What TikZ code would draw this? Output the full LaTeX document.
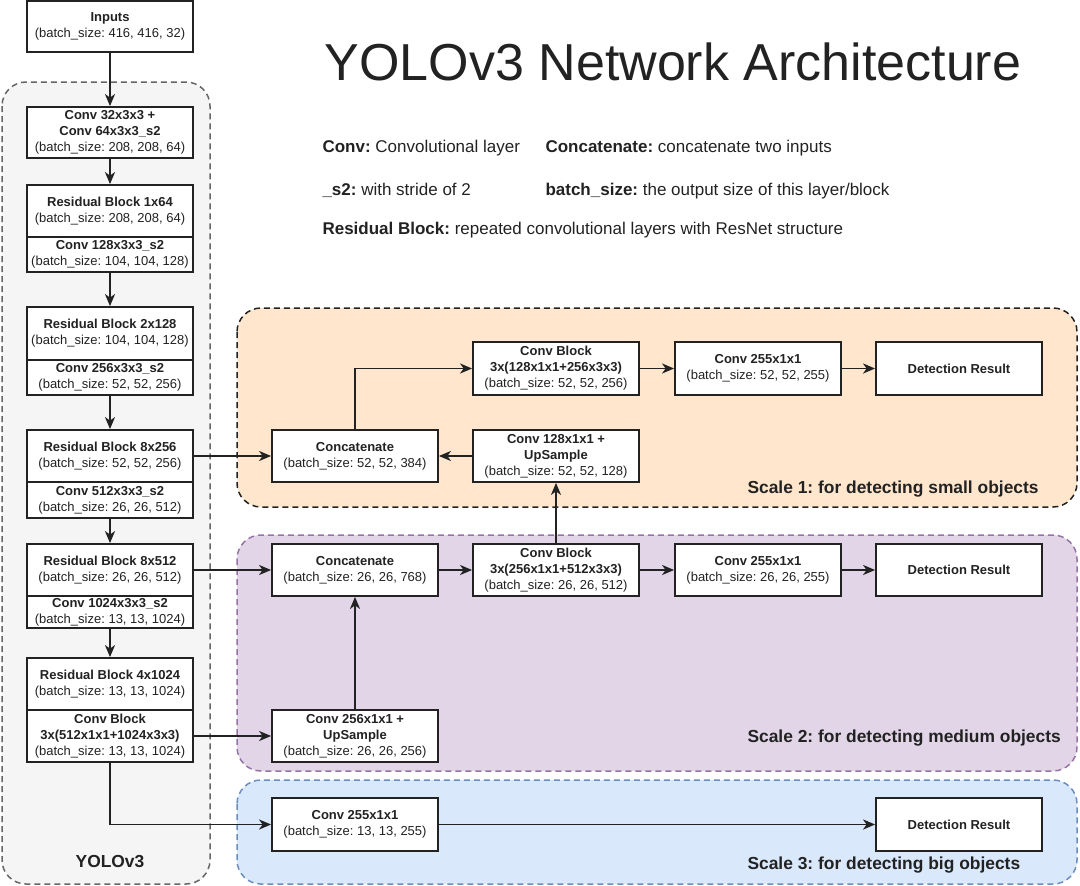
\documentclass[tikz,border=0pt]{standalone}
\usepackage{fontspec}
\setmainfont{Liberation Sans}
\usetikzlibrary{arrows.meta}
\frenchspacing

\definecolor{ink}{HTML}{222222}
\definecolor{yologray}{HTML}{F5F5F5}
\definecolor{yoloedge}{HTML}{666666}
\definecolor{smallfill}{HTML}{FFE6CC}
\definecolor{mediumfill}{HTML}{E1D5E7}
\definecolor{mediumedge}{HTML}{9673A6}
\definecolor{bigfill}{HTML}{DAE8FC}
\definecolor{bigedge}{HTML}{6C8EBF}

\begin{document}
\begin{tikzpicture}[x=1pt, y=-1pt,
  box/.style={draw=ink, line width=1.8pt, fill=white, minimum width=166pt,
    minimum height=52pt, align=center, inner sep=1pt, text=ink,
    font=\fontsize{13}{16}\selectfont},
  link/.style={line width=1.9pt, draw=ink, -{Stealth[length=12pt, width=10pt, inset=3.5pt]}},
  region/.style={line width=1.5pt, dash pattern=on 6pt off 4pt, rounded corners=24pt},
  tag/.style={anchor=base west, text=ink, font=\fontsize{17.4}{20}\selectfont\bfseries},
  legend/.style={anchor=base west, text=ink, font=\fontsize{17}{20}\selectfont}]

  \useasboundingbox (0,0) rectangle (1080,886);

  % Background regions
  \draw[region, draw=yoloedge, fill=yologray] (2,82) rectangle (210,884);
  \draw[region, draw=ink, fill=smallfill] (237,308) rectangle (1077,507);
  \draw[region, draw=mediumedge, fill=mediumfill] (237,535) rectangle (1077,771);
  \draw[region, draw=bigedge, fill=bigfill] (237,780) rectangle (1077,884);

  \node[tag, anchor=base] (yolo) at (110,867) {YOLOv3};
  \node[tag] (scale1) at (744,493) {Scale 1: for detecting small objects};
  \node[tag] (scale2) at (744,742) {Scale 2: for detecting medium objects};
  \node[tag] (scale3) at (744,869) {Scale 3: for detecting big objects};

  % Title and legend
  \node[text=ink, font=\fontsize{52}{60}\selectfont] (title) at (673,62) {YOLOv3 Network Architecture};
  \node[legend] (lconv) at (319,152) {\textbf{Conv:} Convolutional layer};
  \node[legend] (lcat) at (542,152) {\textbf{Concatenate:} concatenate two inputs};
  \node[legend] (lstride) at (319,195) {\textbf{\_s2:} with stride of 2};
  \node[legend] (lbatch) at (542,195) {\textbf{batch\_size:} the output size of this layer/block};
  \node[legend] (lres) at (319,234) {\textbf{Residual Block:} repeated convolutional layers with ResNet structure};

  % Backbone
  \node[box, minimum height=51pt] (inp) at (110,26.5) {\textbf{Inputs}\\(batch\_size: 416, 416, 32)};
  \node[box, minimum height=51pt] (c1) at (110,132.5) {\textbf{Conv 32x3x3 +}\\\textbf{Conv 64x3x3\_s2}\\(batch\_size: 208, 208, 64)};
  \node[box] (r1) at (110,211) {\textbf{Residual Block 1x64}\\(batch\_size: 208, 208, 64)};
  \node[box, minimum height=35pt] (d1) at (110,254.5) {\textbf{Conv 128x3x3\_s2}\\(batch\_size: 104, 104, 128)};
  \node[box, minimum height=53pt] (r2) at (110,333.5) {\textbf{Residual Block 2x128}\\(batch\_size: 104, 104, 128)};
  \node[box, minimum height=35pt] (d2) at (110,377.5) {\textbf{Conv 256x3x3\_s2}\\(batch\_size: 52, 52, 256)};
  \node[box] (r3) at (110,456) {\textbf{Residual Block 8x256}\\(batch\_size: 52, 52, 256)};
  \node[box, minimum height=36pt] (d3) at (110,500) {\textbf{Conv 512x3x3\_s2}\\(batch\_size: 26, 26, 512)};
  \node[box] (r4) at (110,570) {\textbf{Residual Block 8x512}\\(batch\_size: 26, 26, 512)};
  \node[box, minimum height=32pt] (d4) at (110,612) {\textbf{Conv 1024x3x3\_s2}\\(batch\_size: 13, 13, 1024)};
  \node[box] (r5) at (110,684) {\textbf{Residual Block 4x1024}\\(batch\_size: 13, 13, 1024)};
  \node[box] (cb5) at (110,736) {\textbf{Conv Block}\\\textbf{3x(512x1x1+1024x3x3)}\\(batch\_size: 13, 13, 1024)};

  \draw[link] (inp) -- (c1);
  \draw[link] (c1) -- (r1);
  \draw[link] (d1) -- (r2);
  \draw[link] (d2) -- (r3);
  \draw[link] (d3) -- (r4);
  \draw[link] (d4) -- (r5);

  % Scale 1
  \node[box] (cat1) at (355,456) {\textbf{Concatenate}\\(batch\_size: 52, 52, 384)};
  \node[box] (up1) at (556,456) {\textbf{Conv 128x1x1 +}\\\textbf{UpSample}\\(batch\_size: 52, 52, 128)};
  \node[box, minimum height=53pt] (cb1) at (556,368.5) {\textbf{Conv Block}\\\textbf{3x(128x1x1+256x3x3)}\\(batch\_size: 52, 52, 256)};
  \node[box, minimum height=53pt] (out1) at (758,368.5) {\textbf{Conv 255x1x1}\\(batch\_size: 52, 52, 255)};
  \node[box, minimum height=53pt] (det1) at (959,368.5) {\textbf{Detection Result}};

  % Scale 2
  \node[box] (cat2) at (355,570) {\textbf{Concatenate}\\(batch\_size: 26, 26, 768)};
  \node[box] (cb2) at (556,570) {\textbf{Conv Block}\\\textbf{3x(256x1x1+512x3x3)}\\(batch\_size: 26, 26, 512)};
  \node[box] (out2) at (758,570) {\textbf{Conv 255x1x1}\\(batch\_size: 26, 26, 255)};
  \node[box] (det2) at (959,570) {\textbf{Detection Result}};
  \node[box] (up2) at (355,736) {\textbf{Conv 256x1x1 +}\\\textbf{UpSample}\\(batch\_size: 26, 26, 256)};

  % Scale 3
  \node[box, minimum height=53pt] (out3) at (355,824.5) {\textbf{Conv 255x1x1}\\(batch\_size: 13, 13, 255)};
  \node[box, minimum height=53pt] (det3) at (959,824.5) {\textbf{Detection Result}};

  % Connections
  \draw[link] (r3) -- (cat1);
  \draw[link] (cat1.north) |- (cb1.west);
  \draw[link] (cb1) -- (out1);
  \draw[link] (out1) -- (det1);
  \draw[link] (up1) -- (cat1);
  \draw[link] (cb2) -- (up1);
  \draw[link] (r4) -- (cat2);
  \draw[link] (cat2) -- (cb2);
  \draw[link] (cb2) -- (out2);
  \draw[link] (out2) -- (det2);
  \draw[link] (up2) -- (cat2);
  \draw[link] (cb5) -- (up2);
  \draw[link] (cb5.south) |- (out3.west);
  \draw[link] (out3) -- (det3);

\end{tikzpicture}
\end{document}
